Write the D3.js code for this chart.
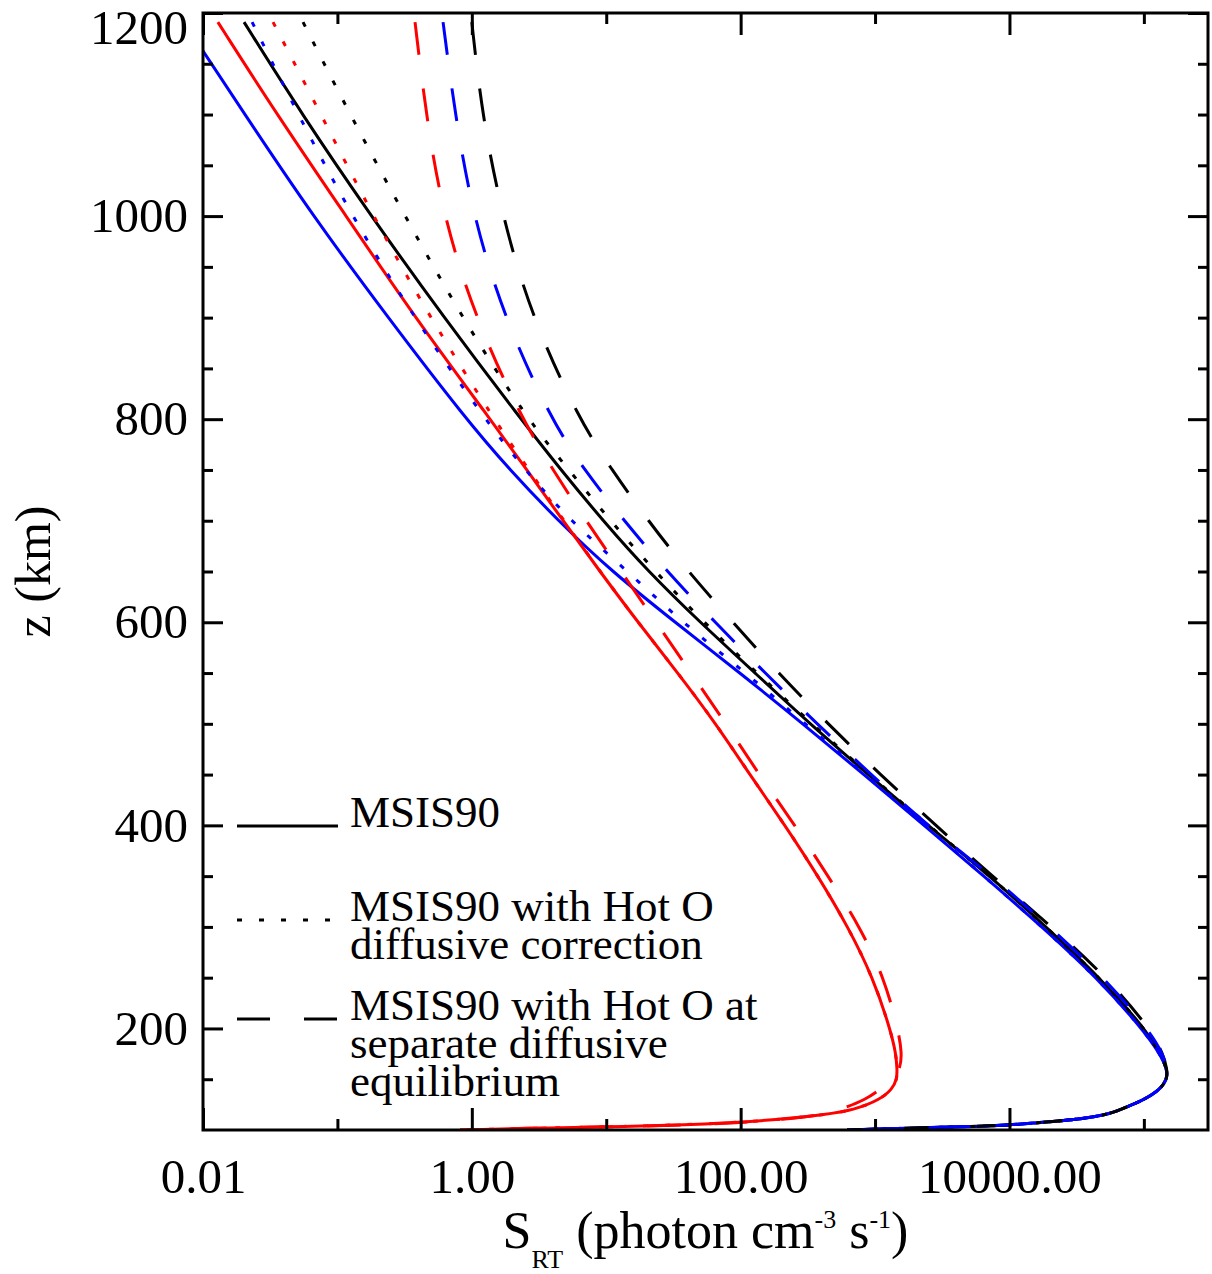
<!DOCTYPE html>
<html>
<head>
<meta charset="utf-8">
<script src="https://cdn.jsdelivr.net/npm/d3@7"></script>
<style>
  body { margin: 0; background: #fff; }
  svg { display: block; background: #fff; }
  text { font-family: "Liberation Serif", "Times New Roman", serif; fill: #000; }
</style>
</head>
<body>
<svg id="chart"></svg>
<script>
const width = 1212;
const height = 1274;
const plotLeft = 203, plotRight = 1208, plotTop = 13, plotBottom = 1130;

// altitude levels (km) shared by every profile
const altitude = [1191, 1100, 1000, 900, 800, 750, 700, 650, 600, 550, 500, 450, 400, 350, 300,
                  250, 200, 175, 160, 150, 140, 130, 120, 115, 110, 107, 105, 103, 102, 100];

// S_RT (photon cm-3 s-1)
const blackSolid  = [0.0202, 0.0545, 0.178, 0.621, 2.32, 4.61, 9.46, 20.5, 49.9, 128, 328, 887, 2470, 7180, 18700,
                     47200, 102000, 132000, 149000, 149000, 132000, 102000, 66500, 53200, 30800, 15500, 10600, 4290, 1820, 619];
const blueSolid   = [0.00722, 0.0205, 0.0658, 0.238, 0.905, 1.92, 4.38, 11.0, 32.5, 99.0, 291, 828, 2315, 6470, 17500,
                     44900, 97000, 132000, 149000, 149000, 132000, 102000, 66500, 53200, 30800, 15500, 10600, 4290, 1820, 619];
const redSolid    = [0.0129, 0.0355, 0.116, 0.378, 1.37, 2.57, 4.77, 8.99, 17.2, 34.2, 65.6, 117, 214, 377, 630,
                     966, 1293, 1433, 1458, 1458, 1338, 1090, 710, 425, 180, 83.4, 35.4, 10.1, 3.22, 0.817];

const blackDotted = [0.0555, 0.124, 0.318, 0.845, 2.58, 5.29, 10.7, 23.1, 53.2, 132, 340, 902, 2490, 7180, 18700,
                     47200, 102000, 132000, 149000, 149000, 132000, 102000, 66500, 53200, 30800, 15500, 10600, 4290, 1820, 619];
const blueDotted  = [0.0232, 0.0509, 0.128, 0.371, 1.25, 2.49, 5.38, 14.5, 36.6, 110, 301, 850, 2350, 6470, 17500,
                     44900, 97000, 132000, 149000, 149000, 132000, 102000, 66500, 53200, 30800, 15500, 10600, 4290, 1820, 619];
const redDotted   = [0.0332, 0.0755, 0.184, 0.489, 1.46, 2.66, 4.85, 8.99, 17.2, 34.2, 65.6, 117, 214, 377, 630,
                     966, 1293, 1433, 1458, 1458, 1338, 1090, 710, 425, 180, 83.4, 35.4, 10.1, 3.22, 0.817];

const blackDashed = [1.00, 1.19, 1.68, 2.80, 6.27, 11.0, 20.5, 40.6, 87.8, 190, 447, 1090, 2840, 7420, 20700,
                     53200, 111000, 139000, 149000, 149000, 132000, 102000, 66500, 53200, 30800, 15500, 10600, 4290, 1820, 619];
const blueDashed  = [0.611, 0.750, 1.02, 1.74, 3.88, 6.84, 13.6, 28.3, 64.5, 152, 370, 934, 2440, 7420, 20000,
                     50600, 107000, 139000, 149000, 149000, 132000, 102000, 66500, 53200, 30800, 15500, 10600, 4290, 1820, 619];
const redDashed   = [0.378, 0.456, 0.611, 1.06, 2.36, 4.02, 7.07, 12.9, 23.5, 42.8, 77.9, 137, 254, 447, 773,
                     1167, 1483, 1588, 1535, 1361, 1090, 857, 549, 410, 196, 90.9, 42.0, 10.7, 3.22, 0.817];

const xMajor = [0.01, 1, 100, 10000];
const xMinor = [0.1, 10, 1000, 100000];
const xTickLabels = ['0.01', '1.00', '100.00', '10000.00'];
const yMajor = [200, 400, 600, 800, 1000, 1200];
const yMinor = [150, 250, 300, 350, 450, 500, 550, 650, 700, 750, 850, 900, 950, 1050, 1100, 1150];

const legendLabels = [
    ['MSIS90'],
    ['MSIS90 with Hot O', 'diffusive correction'],
    ['MSIS90 with Hot O at', 'separate diffusive', 'equilibrium']
];

const solid = null, dotted = '5,17', dashed = '33,34';

const series = [
    {values: blackSolid, color: '#000', dash: solid},
    {values: blueSolid, color: '#0000ff', dash: solid},
    {values: redSolid, color: '#ff0000', dash: solid},
    {values: blackDotted, color: '#000', dash: dotted},
    {values: blueDotted, color: '#0000ff', dash: dotted},
    {values: redDotted, color: '#ff0000', dash: dotted},
    {values: blackDashed, color: '#000', dash: dashed},
    {values: blueDashed, color: '#0000ff', dash: dashed},
    {values: redDashed, color: '#ff0000', dash: dashed}
];

const svg = d3.select('#chart').attr('width', width).attr('height', height);

const x = d3.scaleLog().domain([0.01, 3e5]).range([plotLeft, plotRight]);
const y = d3.scaleLinear().domain([100, 1200]).range([plotBottom, plotTop]);

svg.append('clipPath').attr('id', 'plot-clip')
    .append('rect')
    .attr('x', plotLeft).attr('y', plotTop)
    .attr('width', plotRight - plotLeft).attr('height', plotBottom - plotTop);

const line = d3.line()
    .x(d => x(d[1]))
    .y(d => y(d[0]))
    .curve(d3.curveBasis);

const curves = svg.append('g').attr('clip-path', 'url(#plot-clip)');
series.forEach(s => {
    curves.append('path')
        .datum(altitude.map((z, i) => [z, s.values[i]]))
        .attr('fill', 'none')
        .attr('stroke', s.color)
        .attr('stroke-width', 3)
        .attr('stroke-dasharray', s.dash)
        .attr('d', line);
});

// axes: ticks point inward on all four sides
function styleAxis(g) {
    g.select('.domain').remove();
    g.selectAll('.tick line').attr('stroke', '#000').attr('stroke-width', 3);
    g.attr('font-family', null).attr('font-size', null);
    g.selectAll('text').style('font-size', '49px');
}

svg.append('g').attr('transform', `translate(0,${plotBottom})`)
    .call(d3.axisBottom(x).tickValues(xMajor).tickSize(-22).tickPadding(28)
        .tickFormat((d, i) => xTickLabels[i]))
    .call(styleAxis);
svg.append('g').attr('transform', `translate(0,${plotBottom})`)
    .call(d3.axisBottom(x).tickValues(xMinor).tickSize(-11).tickFormat(''))
    .call(styleAxis);
svg.append('g').attr('transform', `translate(0,${plotTop})`)
    .call(d3.axisTop(x).tickValues(xMajor).tickSize(-22).tickFormat(''))
    .call(styleAxis);
svg.append('g').attr('transform', `translate(0,${plotTop})`)
    .call(d3.axisTop(x).tickValues(xMinor).tickSize(-11).tickFormat(''))
    .call(styleAxis);

const yAxis = svg.append('g').attr('transform', `translate(${plotLeft},0)`)
    .call(d3.axisLeft(y).tickValues(yMajor).tickSize(-20).tickPadding(15).tickFormat(d3.format('d')))
    .call(styleAxis);
// keep the top label inside the picture
yAxis.selectAll('text').filter(d => y(d) < 30).attr('dy', '0.62em');

svg.append('g').attr('transform', `translate(${plotLeft},0)`)
    .call(d3.axisLeft(y).tickValues(yMinor).tickSize(-10).tickFormat(''))
    .call(styleAxis);
svg.append('g').attr('transform', `translate(${plotRight},0)`)
    .call(d3.axisRight(y).tickValues(yMajor).tickSize(-20).tickFormat(''))
    .call(styleAxis);
svg.append('g').attr('transform', `translate(${plotRight},0)`)
    .call(d3.axisRight(y).tickValues(yMinor).tickSize(-10).tickFormat(''))
    .call(styleAxis);

svg.append('rect')
    .attr('x', plotLeft).attr('y', plotTop)
    .attr('width', plotRight - plotLeft).attr('height', plotBottom - plotTop)
    .attr('fill', 'none').attr('stroke', '#000').attr('stroke-width', 3);

// axis titles
const xTitle = svg.append('text')
    .attr('x', (plotLeft + plotRight) / 2).attr('y', 1248)
    .attr('text-anchor', 'middle')
    .style('font-size', '52px');
xTitle.append('tspan').text('S');
xTitle.append('tspan').attr('dy', 20).style('font-size', '26px').text('RT');
xTitle.append('tspan').attr('dy', -20).text('\u00a0(photon cm');
xTitle.append('tspan').attr('dy', -20).style('font-size', '26px').text('-3');
xTitle.append('tspan').attr('dy', 20).text('\u00a0s');
xTitle.append('tspan').attr('dy', -20).style('font-size', '26px').text('-1');
xTitle.append('tspan').attr('dy', 20).text(')');

svg.append('text')
    .attr('transform', `translate(50,${(plotTop + plotBottom) / 2}) rotate(-90)`)
    .attr('text-anchor', 'middle')
    .style('font-size', '50px')
    .text('z (km)');

// legend
const legendY = [826, 920, 1019];
const legendDash = [solid, dotted, dashed];
const legend = svg.append('g');
legendLabels.forEach((lines, i) => {
    legend.append('line')
        .attr('x1', 237).attr('x2', 338)
        .attr('y1', legendY[i]).attr('y2', legendY[i])
        .attr('stroke', '#000').attr('stroke-width', 3)
        .attr('stroke-dasharray', legendDash[i]);
    const label = legend.append('text')
        .attr('y', legendY[i] + 1)
        .style('font-size', '45px');
    lines.forEach((t, j) => {
        label.append('tspan')
            .attr('x', 350).attr('dy', j === 0 ? 0 : 38)
            .text(t);
    });
});
</script>
</body>
</html>
